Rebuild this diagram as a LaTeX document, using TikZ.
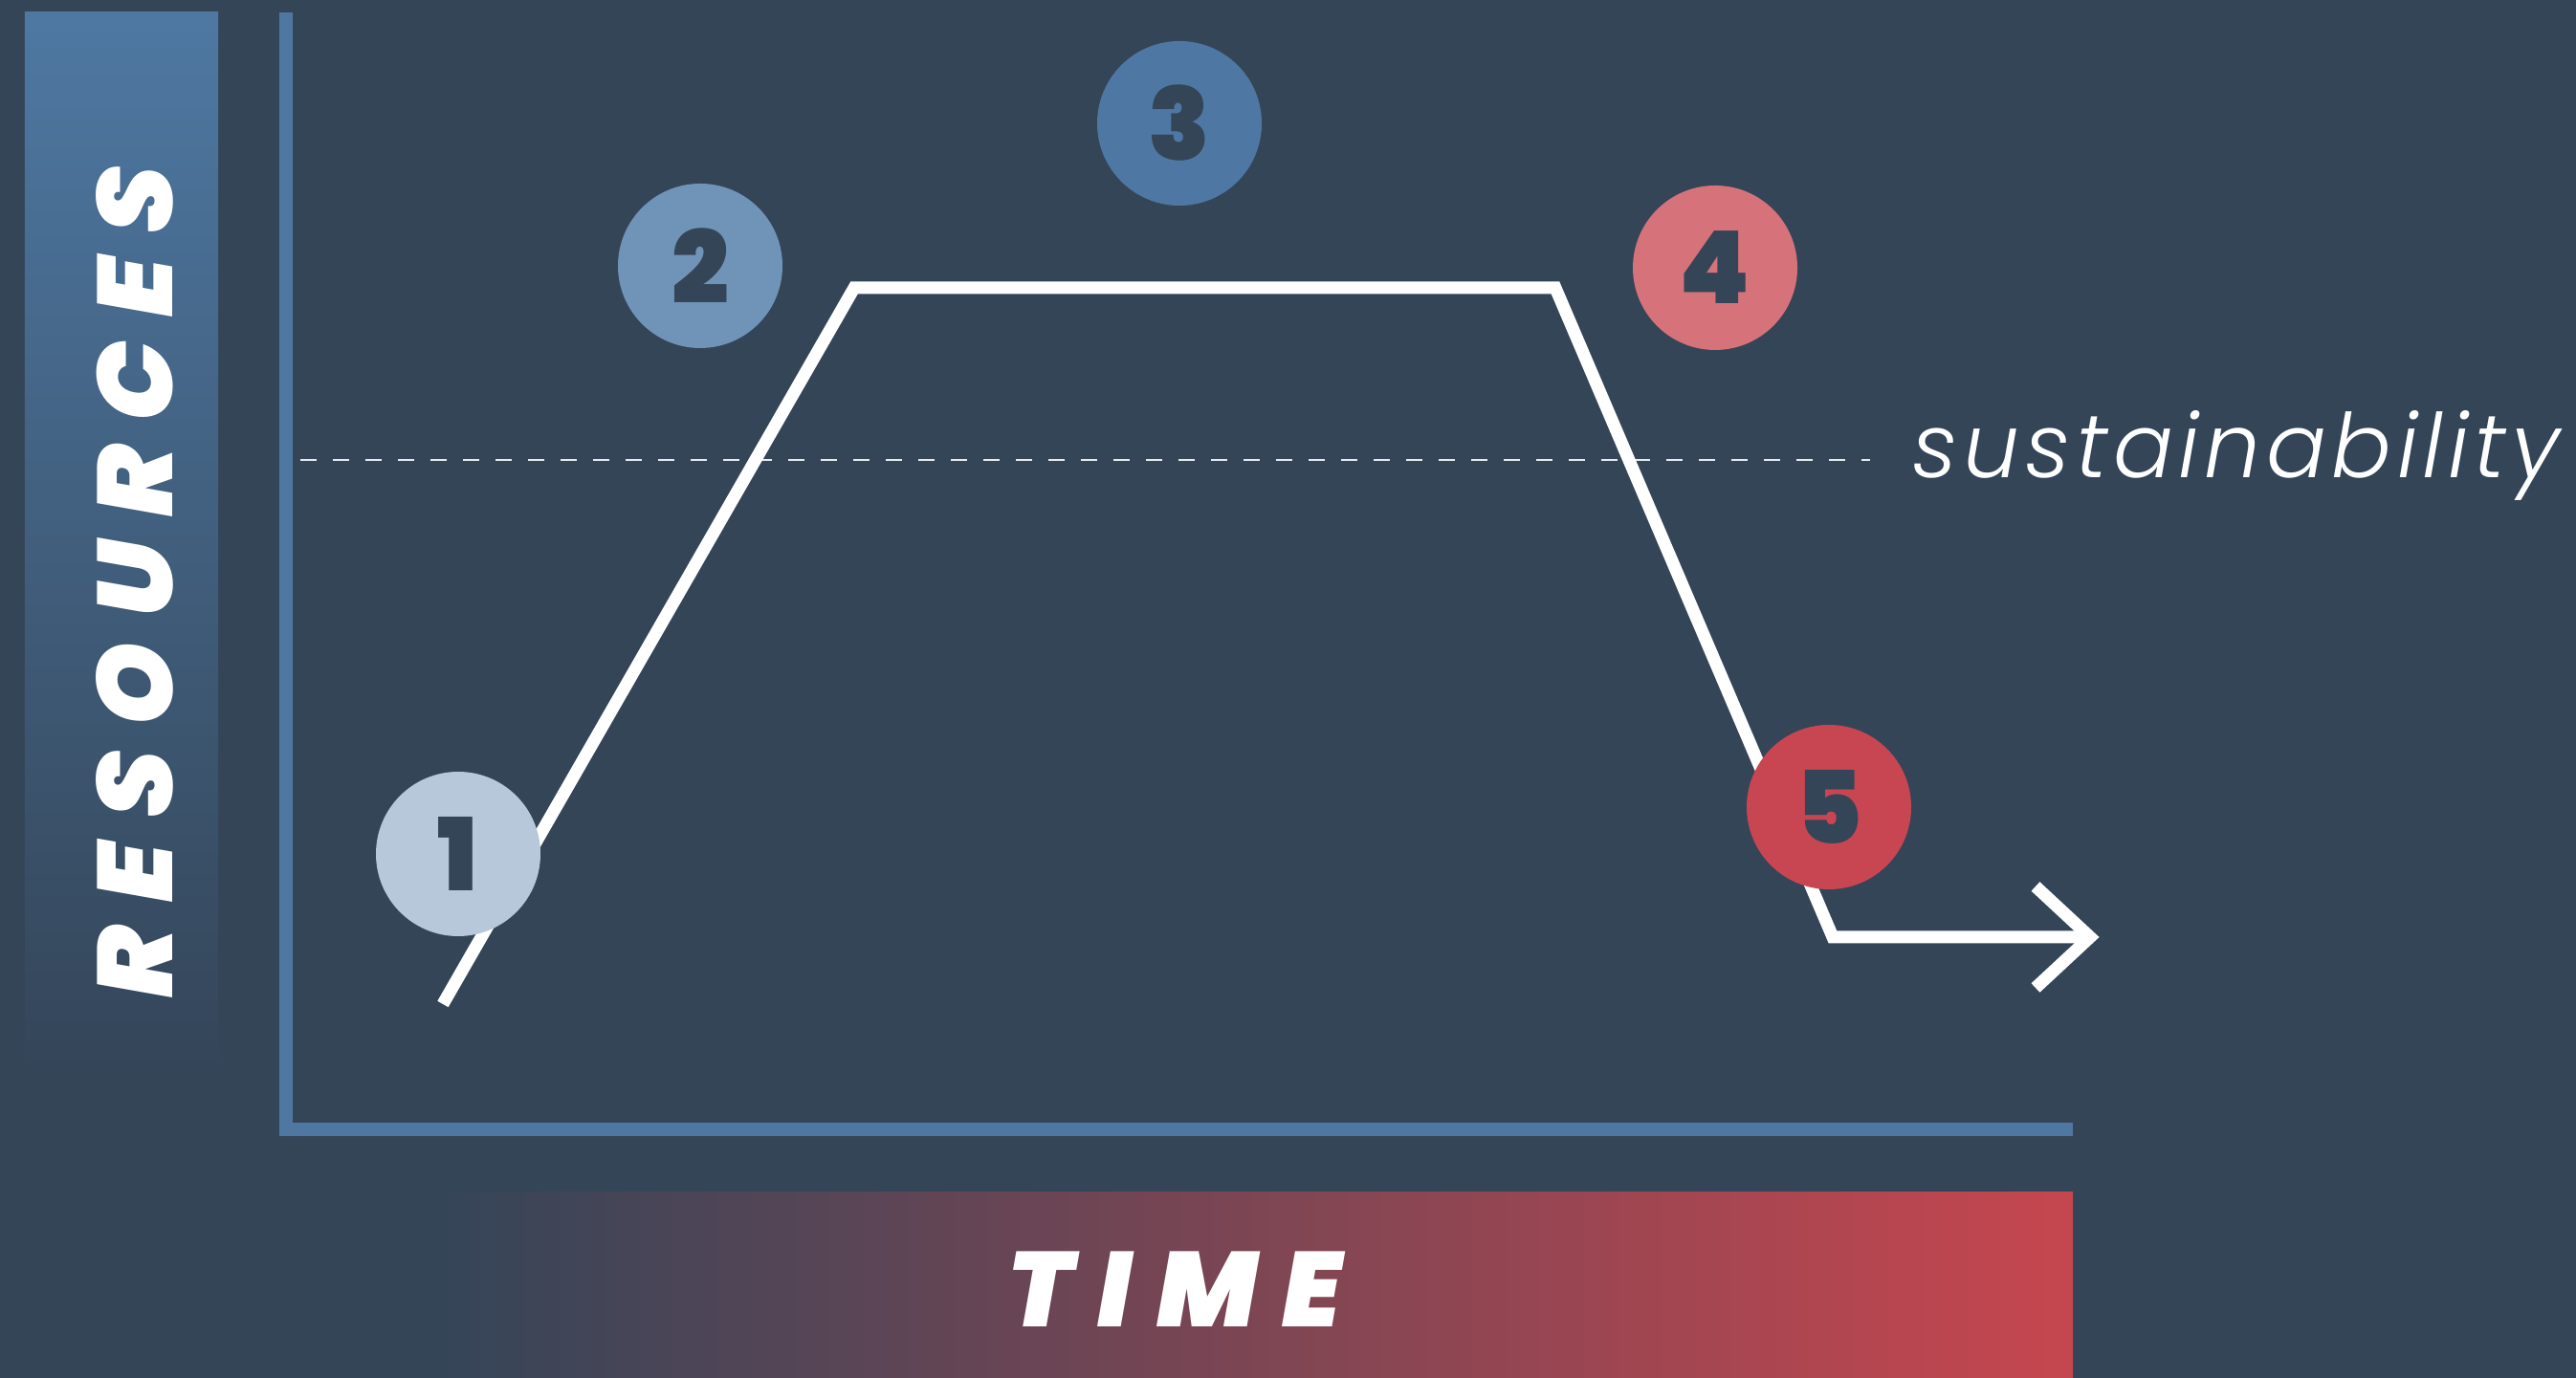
\documentclass[tikz,border=0pt]{standalone}
\usepackage{fontspec}
\newfontfamily\heavyfont{Poppins}[UprightFont=* Black, ItalicFont=* Black Italic]
\newfontfamily\thinfont{Poppins}[UprightFont=* Light, ItalicFont=* Light Italic]
\usetikzlibrary{positioning}
\definecolor{navy}{RGB}{52,69,88}
\definecolor{axisblue}{RGB}{78,120,162}
\definecolor{phaseone}{RGB}{182,200,217}
\definecolor{phasetwo}{RGB}{112,147,184}
\definecolor{phasethree}{RGB}{78,120,163}
\definecolor{phasefour}{RGB}{214,114,122}
\definecolor{phasefive}{RGB}{200,70,81}
\definecolor{timered}{RGB}{198,70,79}

\begin{document}
\begin{tikzpicture}[
    phase/.style={circle, minimum size=1.72cm, inner sep=0pt, text=navy,
                  font=\heavyfont\fontsize{30}{30}\selectfont},
    label/.style={text=white, inner sep=0pt,
                  font=\heavyfont\itshape\fontsize{31.6}{32}\selectfont\addfontfeature{LetterSpace=23}},
    curve/.style={white, line width=0.13cm, line join=miter}
  ]
   \useasboundingbox (0,0) rectangle (26.93,14.41);
   \fill[navy] (0,0) rectangle (26.93,14.41);
   % axis labels
   \shade[top color=axisblue, bottom color=navy] (0.26,3.20) rectangle (2.28,14.28);
   \shade[left color=navy, right color=timered] (4.50,0) rectangle (21.67,1.94);
   \node[label, rotate=90, anchor=base] (resources) at (1.81,8.33) {RESOURCES};
   \node[label, anchor=base] (time) at (12.28,0.53) {TIME};
   % axes
   \coordinate (top) at (2.99,14.28);
   \coordinate (origin) at (2.99,2.60);
   \coordinate (right) at (21.67,2.60);
   \draw[axisblue, line width=0.14cm, line join=miter] (top) -- (origin) -- (right);
   % sustainability level
   \coordinate (dashstart) at (3.14,9.60);
   \node[text=white, inner sep=0pt, anchor=base west,
         font=\thinfont\itshape\fontsize{26.5}{27}\selectfont\addfontfeature{LetterSpace=6}]
        (sust) at (19.99,9.41) {sustainability};
   \draw[white!88!navy, line width=0.025cm, dash pattern=on 0.17cm off 0.17cm]
        (dashstart) -- (dashstart -| 19.55,0);
   % resource curve
   \coordinate (start) at (4.63,3.91);
   \coordinate (rise) at (8.93,11.40);
   \coordinate (fall) at (16.26,11.40);
   \coordinate (low) at (19.16,4.61);
   \coordinate (tip) at (21.85,4.61);
   \coordinate (barbup) at (21.28,5.14);
   \coordinate (barbdown) at (21.28,4.08);
   \draw[curve] (start) -- (rise) -- (fall) -- (low) -- (tip);
   \draw[curve] (barbup) -- (tip) -- (barbdown);
   % phases
   \node[phase, fill=phaseone] (p1) at (4.79,5.48) {1};
   \node[phase, fill=phasetwo] (p2) at (7.32,11.63) {2};
   \node[phase, fill=phasethree] (p3) at (12.33,13.12) {3};
   \node[phase, fill=phasefour] (p4) at (17.93,11.61) {4};
   \node[phase, fill=phasefive] (p5) at (19.12,5.97) {5};
\end{tikzpicture}
\end{document}
